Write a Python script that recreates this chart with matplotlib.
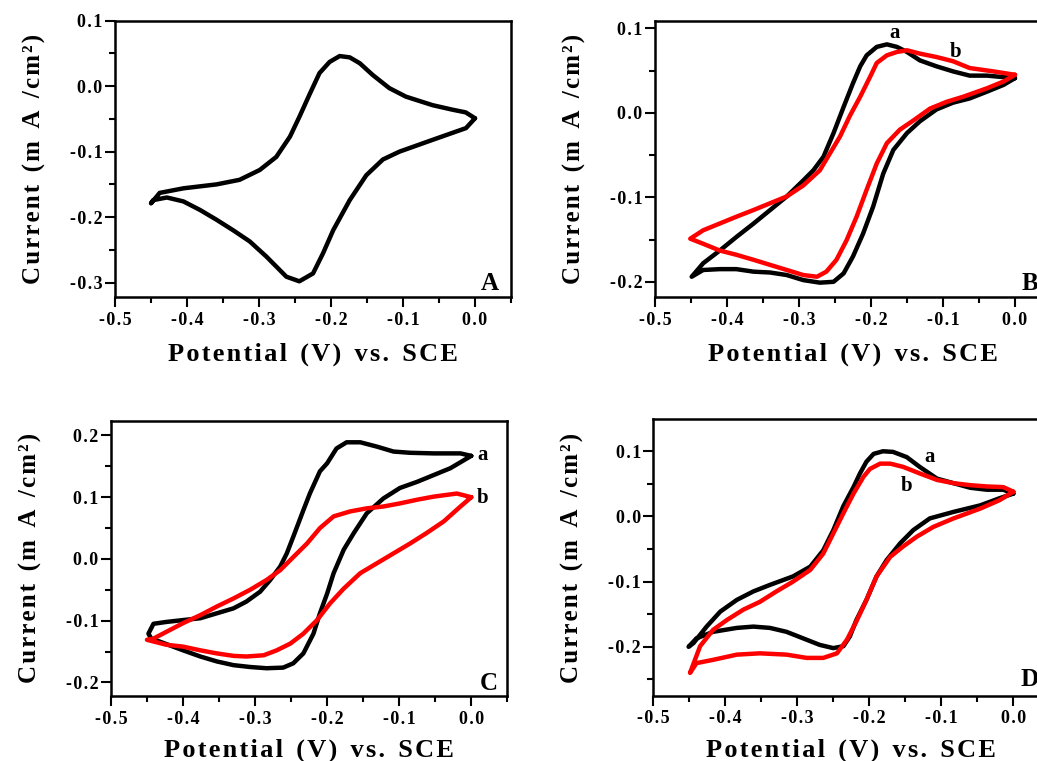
import matplotlib
matplotlib.use("Agg")
import matplotlib.pyplot as plt
from matplotlib.ticker import MultipleLocator, FuncFormatter

plt.rcParams['font.family'] = ['Liberation Serif', 'DejaVu Serif']
plt.rcParams['font.weight'] = 'bold'

# Panel A: single voltammogram
a_pot = [0.0, -0.0125, -0.059, -0.105, -0.128, -0.151, -0.174, -0.197, -0.211, -0.225,
         -0.244, -0.262, -0.290, -0.313, -0.336, -0.359, -0.382, -0.405, -0.428, -0.447,
         -0.450, -0.438, -0.405, -0.359, -0.327, -0.299, -0.276, -0.257, -0.244, -0.230,
         -0.216, -0.202, -0.188, -0.174, -0.160, -0.142, -0.119, -0.096, -0.059, -0.031,
         -0.013, 0.0]
a_cur = [-0.049, -0.064, -0.082, -0.100, -0.112, -0.136, -0.174, -0.220, -0.255, -0.286,
         -0.298, -0.291, -0.260, -0.237, -0.220, -0.204, -0.189, -0.176, -0.170, -0.174,
         -0.179, -0.163, -0.156, -0.150, -0.143, -0.128, -0.108, -0.077, -0.047, -0.013,
         0.020, 0.037, 0.046, 0.044, 0.035, 0.017, -0.003, -0.016, -0.029, -0.036,
         -0.040, -0.049]

# Panel B
b_pot_a = [0.0, -0.039, -0.063, -0.086, -0.109, -0.132, -0.150, -0.164, -0.178, -0.192,
           -0.206, -0.215, -0.225, -0.238, -0.252, -0.266, -0.280, -0.294, -0.317, -0.340,
           -0.363, -0.387, -0.410, -0.433, -0.449, -0.433, -0.410, -0.387, -0.363, -0.340,
           -0.317, -0.294, -0.271, -0.252, -0.238, -0.225, -0.211, -0.197, -0.183, -0.169,
           -0.150, -0.132, -0.109, -0.086, -0.063, -0.039, -0.016, 0.0]
b_cur_a = [0.041, 0.044, 0.044, 0.049, 0.055, 0.062, 0.072, 0.078, 0.081, 0.078,
           0.068, 0.055, 0.035, 0.007, -0.024, -0.052, -0.068, -0.080, -0.099, -0.115,
           -0.131, -0.147, -0.163, -0.178, -0.194, -0.186, -0.185, -0.185, -0.188, -0.189,
           -0.192, -0.198, -0.201, -0.200, -0.190, -0.170, -0.143, -0.111, -0.072, -0.044,
           -0.024, -0.010, 0.004, 0.012, 0.017, 0.025, 0.033, 0.041]
b_pot_b = [0.0, -0.030, -0.063, -0.086, -0.109, -0.132, -0.150, -0.164, -0.178, -0.192,
           -0.201, -0.215, -0.229, -0.243, -0.257, -0.271, -0.294, -0.317, -0.340, -0.363,
           -0.387, -0.410, -0.433, -0.451, -0.433, -0.410, -0.387, -0.363, -0.340, -0.317,
           -0.294, -0.275, -0.262, -0.248, -0.234, -0.220, -0.206, -0.192, -0.178, -0.160,
           -0.141, -0.118, -0.095, -0.072, -0.039, -0.016, 0.0]
b_cur_b = [0.045, 0.049, 0.053, 0.061, 0.066, 0.070, 0.074, 0.072, 0.068, 0.059,
           0.043, 0.019, -0.003, -0.028, -0.048, -0.068, -0.086, -0.099, -0.107, -0.115,
           -0.123, -0.131, -0.139, -0.149, -0.155, -0.163, -0.168, -0.174, -0.180, -0.186,
           -0.192, -0.194, -0.188, -0.174, -0.151, -0.123, -0.091, -0.060, -0.036, -0.020,
           -0.009, 0.005, 0.013, 0.019, 0.029, 0.037, 0.045]

# Panel C
c_pot_a = [0.0, -0.015, -0.052, -0.085, -0.108, -0.131, -0.154, -0.173, -0.187, -0.200,
           -0.210, -0.224, -0.233, -0.247, -0.256, -0.265, -0.279, -0.293, -0.312, -0.330,
           -0.353, -0.376, -0.400, -0.423, -0.441, -0.448, -0.444, -0.432, -0.400, -0.376,
           -0.353, -0.330, -0.307, -0.284, -0.261, -0.247, -0.233, -0.219, -0.210, -0.200,
           -0.191, -0.177, -0.163, -0.145, -0.122, -0.099, -0.075, -0.052, -0.029, 0.0]
c_cur_a = [0.167, 0.171, 0.171, 0.172, 0.174, 0.182, 0.189, 0.189, 0.179, 0.155,
           0.142, 0.106, 0.079, 0.036, 0.009, -0.012, -0.034, -0.053, -0.069, -0.080,
           -0.088, -0.096, -0.099, -0.102, -0.105, -0.121, -0.129, -0.134, -0.148, -0.158,
           -0.166, -0.172, -0.175, -0.177, -0.176, -0.169, -0.153, -0.121, -0.088, -0.056,
           -0.023, 0.015, 0.042, 0.074, 0.098, 0.115, 0.125, 0.136, 0.147, 0.167]
c_pot_b = [0.0, -0.020, -0.052, -0.075, -0.099, -0.122, -0.145, -0.168, -0.191, -0.210,
           -0.228, -0.247, -0.265, -0.284, -0.307, -0.330, -0.353, -0.376, -0.400, -0.423,
           -0.441, -0.450, -0.423, -0.400, -0.376, -0.353, -0.330, -0.312, -0.288, -0.270,
           -0.251, -0.233, -0.214, -0.196, -0.177, -0.154, -0.131, -0.108, -0.085, -0.062,
           -0.038, -0.015, 0.0]
c_cur_b = [0.100, 0.106, 0.101, 0.096, 0.090, 0.085, 0.082, 0.077, 0.069, 0.050,
           0.025, 0.003, -0.018, -0.034, -0.050, -0.064, -0.077, -0.091, -0.104, -0.118,
           -0.129, -0.131, -0.139, -0.142, -0.148, -0.153, -0.157, -0.158, -0.156, -0.148,
           -0.137, -0.121, -0.099, -0.072, -0.048, -0.023, -0.007, 0.009, 0.025, 0.042,
           0.061, 0.085, 0.100]

# Panel D
d_pot_a = [0.0, -0.014, -0.037, -0.060, -0.083, -0.106, -0.130, -0.148, -0.167, -0.181,
           -0.194, -0.204, -0.213, -0.222, -0.236, -0.250, -0.264, -0.282, -0.306, -0.338,
           -0.361, -0.384, -0.407, -0.426, -0.444, -0.451, -0.440, -0.417, -0.384, -0.361,
           -0.338, -0.315, -0.292, -0.269, -0.250, -0.236, -0.227, -0.218, -0.204, -0.190,
           -0.176, -0.157, -0.139, -0.116, -0.083, -0.046, -0.019, 0.0]
d_cur_a = [0.035, 0.041, 0.041, 0.044, 0.051, 0.058, 0.076, 0.091, 0.099, 0.100,
           0.096, 0.084, 0.066, 0.045, 0.016, -0.021, -0.052, -0.077, -0.092, -0.105,
           -0.115, -0.128, -0.146, -0.169, -0.194, -0.200, -0.187, -0.177, -0.171, -0.169,
           -0.171, -0.177, -0.187, -0.197, -0.202, -0.199, -0.184, -0.159, -0.128, -0.092,
           -0.067, -0.041, -0.021, -0.003, 0.007, 0.017, 0.028, 0.035]
d_pot_b = [0.0, -0.014, -0.037, -0.060, -0.083, -0.106, -0.130, -0.153, -0.171, -0.185,
           -0.199, -0.208, -0.222, -0.236, -0.250, -0.264, -0.282, -0.306, -0.329, -0.352,
           -0.375, -0.398, -0.417, -0.435, -0.449, -0.440, -0.417, -0.384, -0.352, -0.315,
           -0.287, -0.264, -0.245, -0.231, -0.218, -0.204, -0.190, -0.171, -0.153, -0.134,
           -0.111, -0.083, -0.046, -0.019, 0.0]
d_cur_b = [0.038, 0.045, 0.046, 0.048, 0.051, 0.056, 0.066, 0.076, 0.081, 0.081,
           0.073, 0.061, 0.035, 0.005, -0.026, -0.057, -0.082, -0.100, -0.115, -0.131,
           -0.143, -0.159, -0.174, -0.199, -0.240, -0.225, -0.220, -0.212, -0.210, -0.212,
           -0.217, -0.217, -0.210, -0.189, -0.161, -0.128, -0.092, -0.062, -0.046, -0.031,
           -0.016, -0.003, 0.012, 0.025, 0.038]

xticks = [-0.5, -0.4, -0.3, -0.2, -0.1, 0.0]


def spaced(s):
    # wide letter spacing: hair space between letters, en space for word gaps
    return '\u200a'.join(s).replace('\u200a \u200a', '\u2002')


def tick_fmt(v, pos):
    return '\u200a'.join(f"{v:.1f}")


fig = plt.figure(figsize=(10.37, 7.61), dpi=100)

# [left, bottom, width, height], y limits, panel letter, x-label offset
panels = [
    ([0.1109, 0.6097, 0.3819, 0.3631], (-0.322, 0.100), 'A', -0.165),
    ([0.6316, 0.6097, 0.3819, 0.3631], (-0.218, 0.109), 'B', -0.165),
    ([0.1070, 0.0854, 0.3822, 0.3618], (-0.222, 0.224), 'C', -0.155),
    ([0.6300, 0.0858, 0.3819, 0.3632], (-0.275, 0.149), 'D', -0.155),
]

curves = {
    'A': [(a_pot, a_cur, 'black')],
    'B': [(b_pot_a, b_cur_a, 'black'), (b_pot_b, b_cur_b, 'red')],
    'C': [(c_pot_a, c_cur_a, 'black'), (c_pot_b, c_cur_b, 'red')],
    'D': [(d_pot_a, d_cur_a, 'black'), (d_pot_b, d_cur_b, 'red')],
}

labels = {
    'B': [(-0.167, 0.094, 'a'), (-0.083, 0.072, 'b')],
    'C': [(0.016, 0.169, 'a'), (0.016, 0.098, 'b')],
    'D': [(-0.116, 0.091, 'a'), (-0.148, 0.046, 'b')],
}

corner = {'A': (0.020, -0.301), 'B': (0.021, -0.202), 'C': (0.024, -0.202), 'D': (0.023, -0.250)}

for rect, ylim, name, xlab_y in panels:
    ax = fig.add_axes(rect)
    for x, y, col in curves[name]:
        ax.plot(x, y, color=col, lw=3.2, solid_joinstyle='round', solid_capstyle='round')
    for x, y, t in labels.get(name, []):
        ax.text(x, y, t, fontsize=15, fontweight='bold', ha='center', va='center')
    cx, cy = corner[name]
    ax.text(cx, cy, name, fontsize=18, fontweight='bold', ha='center', va='center', clip_on=False)

    ax.set_xlim(-0.5, 0.05)
    ax.set_ylim(*ylim)
    ax.set_xticks(xticks)
    ax.xaxis.set_minor_locator(MultipleLocator(0.05))
    ax.yaxis.set_major_locator(MultipleLocator(0.1))
    ax.yaxis.set_minor_locator(MultipleLocator(0.05))
    ax.xaxis.set_major_formatter(FuncFormatter(tick_fmt))
    ax.yaxis.set_major_formatter(FuncFormatter(tick_fmt))
    ax.tick_params(which='both', direction='out', top=False, right=False, width=1.5)
    ax.tick_params(which='major', length=7, labelsize=13)
    ax.tick_params(axis='y', which='major', pad=2)
    ax.tick_params(which='minor', length=4)
    for s in ax.spines.values():
        s.set_linewidth(1.8)
    for lab in ax.get_xticklabels() + ax.get_yticklabels():
        lab.set_fontweight('bold')

    ax.set_xlabel(spaced('Potential (V) vs. SCE'), fontsize=19, fontweight='bold')
    ax.set_ylabel(spaced('Current (m') + '\u2002' + spaced('A /cm\u00b2)'), fontsize=18, fontweight='bold')
    ax.xaxis.set_label_coords(0.5, xlab_y)
    ax.yaxis.set_label_coords(-0.175, 0.5)

fig.savefig('out.png', dpi=100)
